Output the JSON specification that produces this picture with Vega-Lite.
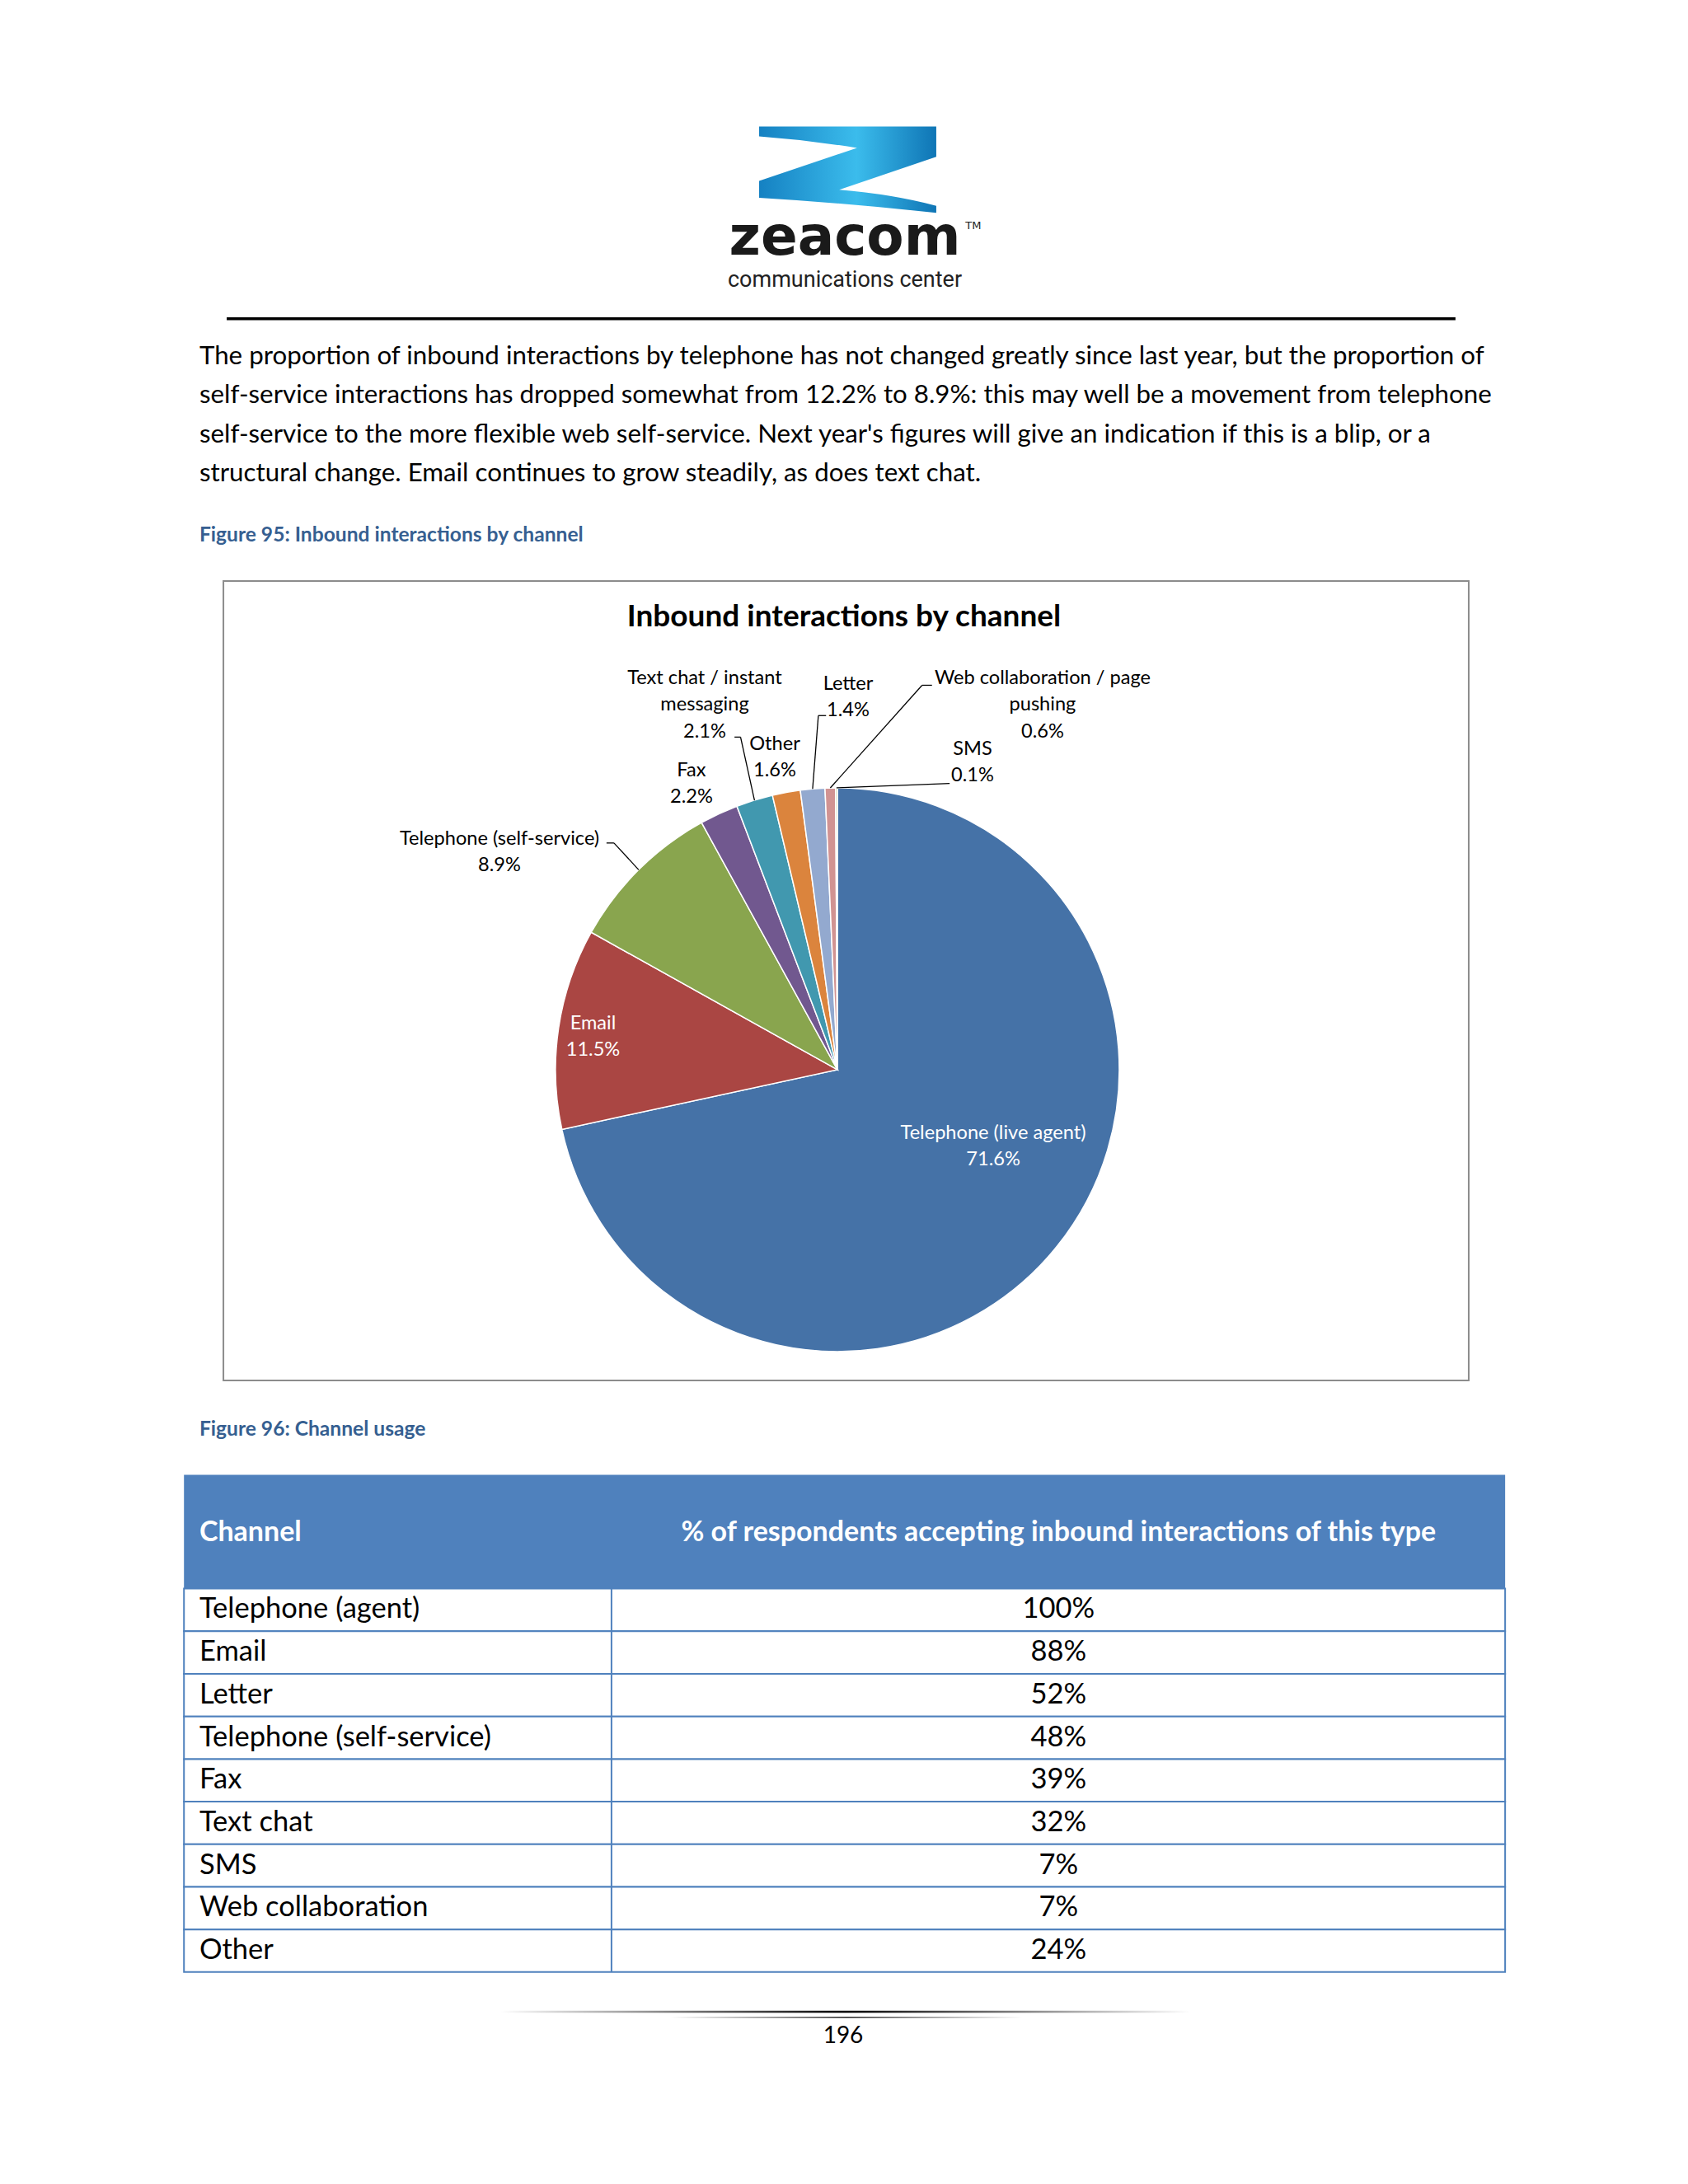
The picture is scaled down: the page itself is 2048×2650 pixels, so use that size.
{
  "$schema": "https://vega.github.io/schema/vega-lite/v6.json",
  "width": 2048,
  "height": 2650,
  "autosize": {"type": "fit", "contains": "padding"},
  "padding": 0,
  "background": "#ffffff",
  "config": {"view": {"stroke": null}, "axis": {"disable": true}, "legend": {"disable": true}, "text": {"font": "Lato"}},
  "datasets": {
    "slices": [
      {"channel": "Telephone (live agent)", "name": "Telephone (live agent)", "pct": 71.6},
      {"channel": "Email", "name": "Email", "pct": 11.5},
      {"channel": "Telephone (self-service)", "name": "Telephone (self-service)", "pct": 8.9},
      {"channel": "Fax", "name": "Fax", "pct": 2.2},
      {"channel": "Text chat / instant messaging", "name": "Text chat / instant\nmessaging", "pct": 2.1},
      {"channel": "Other", "name": "Other", "pct": 1.6},
      {"channel": "Letter", "name": "Letter", "pct": 1.4},
      {"channel": "Web collaboration / page pushing", "name": "Web collaboration / page\npushing", "pct": 0.6},
      {"channel": "SMS", "name": "SMS", "pct": 0.1}
    ],
    "usage": [
      {"channel": "Telephone (agent)", "share": 100},
      {"channel": "Email", "share": 88},
      {"channel": "Letter", "share": 52},
      {"channel": "Telephone (self-service)", "share": 48},
      {"channel": "Fax", "share": 39},
      {"channel": "Text chat", "share": 32},
      {"channel": "SMS", "share": 7},
      {"channel": "Web collaboration", "share": 7},
      {"channel": "Other", "share": 24}
    ],
    "texts": [
      {"role": "brand", "text": "zeacom"},
      {"role": "tm", "text": "TM"},
      {"role": "tagline", "text": "communications center"},
      {"role": "para", "text": "The proportion of inbound interactions by telephone has not changed greatly since last year, but the proportion of\nself-service interactions has dropped somewhat from 12.2% to 8.9%: this may well be a movement from telephone\nself-service to the more flexible web self-service. Next year's figures will give an indication if this is a blip, or a\nstructural change. Email continues to grow steadily, as does text chat."},
      {"role": "cap95", "text": "Figure 95: Inbound interactions by channel"},
      {"role": "title", "text": "Inbound interactions by channel"},
      {"role": "cap96", "text": "Figure 96: Channel usage"},
      {"role": "h1", "text": "Channel"},
      {"role": "h2", "text": "% of respondents accepting inbound interactions of this type"},
      {"role": "page", "text": "196"}
    ]
  },
  "data": {"name": "slices"},
  "transform": [
    {"window": [{"op": "row_number", "as": "idx"}]},
    {"joinaggregate": [{"op": "sum", "field": "pct", "as": "total"}]},
    {"window": [{"op": "sum", "field": "pct", "as": "cum"}], "sort": [{"field": "idx"}], "frame": [null, 0]},
    {"calculate": "2*PI*(datum.cum - datum.pct/2)/datum.total", "as": "mid"},
    {"calculate": "303.6 + 102.2*sin(datum.mid)", "as": "edgeX"},
    {"calculate": "387.9 - 102.2*cos(datum.mid)", "as": "edgeY"},
    {"calculate": "datum.name + '\\n' + format(datum.pct, '.1f') + '%'", "as": "label"}
  ],
  "layer": [
    {
      "data": {"values": [{}]},
      "mark": {"type": "point", "shape": "M-1,-0.48L0.99,-0.48L0.99,-0.14L-0.1,0.23Q0.5,0.28 0.99,0.41L0.99,0.49Q0,0.38 -1,0.32L-1,0.13L0.1,-0.24Q-0.45,-0.33 -1,-0.37Z", "size": 46656, "filled": true, "opacity": 1, "strokeWidth": 0,
        "fill": {"gradient": "linear", "x1": 0, "y1": 0, "x2": 1, "y2": 0, "stops": [{"offset": 0, "color": "#1581c2"}, {"offset": 0.55, "color": "#3bbcec"}, {"offset": 1, "color": "#0f75b5"}]}},
      "encoding": {
        "x": {"datum": 307.5, "type": "quantitative", "scale": {"domain": [0, 612], "nice": false, "zero": false}, "axis": null},
        "y": {"datum": 61.4, "type": "quantitative", "scale": {"domain": [0, 792], "reverse": true, "nice": false, "zero": false}, "axis": null}
      }
    },
    {
      "data": {"name": "texts"},
      "transform": [{"filter": "datum.role === 'brand'"}],
      "mark": {"type": "text", "font": "DejaVu Sans", "fontWeight": "bold", "fontSize": 66, "align": "center", "baseline": "alphabetic", "color": "#1a1a1a"},
      "encoding": {
        "x": {"datum": 306.3, "type": "quantitative", "scale": {"domain": [0, 612], "nice": false, "zero": false}, "axis": null},
        "y": {"datum": 92.35, "type": "quantitative", "scale": {"domain": [0, 792], "reverse": true, "nice": false, "zero": false}, "axis": null},
        "text": {"field": "text"}
      }
    },
    {
      "data": {"name": "texts"},
      "transform": [{"filter": "datum.role === 'tm'"}],
      "mark": {"type": "text", "font": "DejaVu Sans", "fontSize": 13, "align": "left", "baseline": "alphabetic", "color": "#1a1a1a"},
      "encoding": {
        "x": {"datum": 350.0, "type": "quantitative"},
        "y": {"datum": 83.2, "type": "quantitative"},
        "text": {"field": "text"}
      }
    },
    {
      "data": {"name": "texts"},
      "transform": [{"filter": "datum.role === 'tagline'"}],
      "mark": {"type": "text", "font": "Roboto", "fontSize": 27, "align": "center", "baseline": "alphabetic", "color": "#222222"},
      "encoding": {
        "x": {"datum": 306.3, "type": "quantitative"},
        "y": {"datum": 104.0, "type": "quantitative"},
        "text": {"field": "text"}
      }
    },
    {
      "data": {"values": [{}]},
      "mark": {"type": "rule", "strokeWidth": 3.5, "color": "#000000"},
      "encoding": {
        "x": {"datum": 82.2, "type": "quantitative"},
        "x2": {"datum": 527.7},
        "y": {"datum": 115.6, "type": "quantitative"}
      }
    },
    {
      "data": {"name": "texts"},
      "transform": [{"filter": "datum.role === 'para'"}],
      "mark": {"type": "text", "fontSize": 31.3, "align": "left", "baseline": "middle", "lineBreak": "\n", "lineHeight": 47.4, "color": "#000000"},
      "encoding": {
        "x": {"datum": 72.3, "type": "quantitative"},
        "y": {"datum": 129.4, "type": "quantitative"},
        "text": {"field": "text"}
      }
    },
    {
      "data": {"name": "texts"},
      "transform": [{"filter": "datum.role === 'cap95' || datum.role === 'cap96'"}, {"calculate": "datum.role === 'cap95' ? 194.2 : 518.6", "as": "capY"}],
      "mark": {"type": "text", "fontSize": 24.6, "fontWeight": "bold", "align": "left", "baseline": "middle", "color": "#365F91"},
      "encoding": {
        "x": {"datum": 72.3, "type": "quantitative"},
        "y": {"field": "capY", "type": "quantitative"},
        "text": {"field": "text"}
      }
    },
    {
      "data": {"values": [{}]},
      "mark": {"type": "rect", "fill": "#ffffff", "stroke": "#8c8c8c", "strokeWidth": 2},
      "encoding": {
        "x": {"datum": 81.0, "type": "quantitative"},
        "x2": {"datum": 532.5},
        "y": {"datum": 210.7, "type": "quantitative"},
        "y2": {"datum": 500.6}
      }
    },
    {
      "data": {"name": "texts"},
      "transform": [{"filter": "datum.role === 'title'"}],
      "mark": {"type": "text", "fontSize": 37, "fontWeight": "bold", "align": "center", "baseline": "middle", "color": "#000000"},
      "encoding": {
        "x": {"datum": 306.0, "type": "quantitative"},
        "y": {"datum": 223.8, "type": "quantitative"},
        "text": {"field": "text"}
      }
    },
    {
      "mark": {"type": "arc", "outerRadius": 342, "stroke": "#ffffff", "strokeWidth": 1.5},
      "encoding": {
        "x": {"datum": 303.6, "type": "quantitative"},
        "y": {"datum": 387.9, "type": "quantitative"},
        "theta": {"field": "pct", "type": "quantitative", "stack": true},
        "order": {"field": "idx", "type": "quantitative"},
        "color": {"field": "channel", "type": "nominal", "legend": null,
          "scale": {"domain": ["Telephone (live agent)", "Email", "Telephone (self-service)", "Fax", "Text chat / instant messaging", "Other", "Letter", "Web collaboration / page pushing", "SMS"],
                    "range": ["#4572A7", "#AA4643", "#89A54E", "#71588F", "#4198AF", "#DB843D", "#93A9CF", "#D19392", "#B9CD96"]}}
      }
    },
    {
      "transform": [{"filter": "datum.channel === 'Telephone (self-service)'"}],
      "mark": {"type": "rule", "color": "#000000", "strokeWidth": 1.3},
      "encoding": {"x": {"field": "edgeX", "type": "quantitative"}, "y": {"field": "edgeY", "type": "quantitative"}, "x2": {"datum": 222.6}, "y2": {"datum": 305.7}}
    },
    {
      "transform": [{"filter": "datum.channel === 'Telephone (self-service)'"}],
      "mark": {"type": "rule", "color": "#000000", "strokeWidth": 1.3},
      "encoding": {"x": {"datum": 219.9, "type": "quantitative"}, "x2": {"datum": 222.6}, "y": {"datum": 305.7, "type": "quantitative"}}
    },
    {
      "transform": [{"filter": "datum.channel === 'Text chat / instant messaging'"}],
      "mark": {"type": "rule", "color": "#000000", "strokeWidth": 1.3},
      "encoding": {"x": {"field": "edgeX", "type": "quantitative"}, "y": {"field": "edgeY", "type": "quantitative"}, "x2": {"datum": 268.5}, "y2": {"datum": 267.3}}
    },
    {
      "transform": [{"filter": "datum.channel === 'Text chat / instant messaging'"}],
      "mark": {"type": "rule", "color": "#000000", "strokeWidth": 1.3},
      "encoding": {"x": {"datum": 266.3, "type": "quantitative"}, "x2": {"datum": 268.5}, "y": {"datum": 267.3, "type": "quantitative"}}
    },
    {
      "transform": [{"filter": "datum.channel === 'Letter'"}],
      "mark": {"type": "rule", "color": "#000000", "strokeWidth": 1.3},
      "encoding": {"x": {"field": "edgeX", "type": "quantitative"}, "y": {"field": "edgeY", "type": "quantitative"}, "x2": {"datum": 296.7}, "y2": {"datum": 259.5}}
    },
    {
      "transform": [{"filter": "datum.channel === 'Letter'"}],
      "mark": {"type": "rule", "color": "#000000", "strokeWidth": 1.3},
      "encoding": {"x": {"datum": 296.7, "type": "quantitative"}, "x2": {"datum": 299.5}, "y": {"datum": 259.5, "type": "quantitative"}}
    },
    {
      "transform": [{"filter": "datum.channel === 'Web collaboration / page pushing'"}],
      "mark": {"type": "rule", "color": "#000000", "strokeWidth": 1.3},
      "encoding": {"x": {"field": "edgeX", "type": "quantitative"}, "y": {"field": "edgeY", "type": "quantitative"}, "x2": {"datum": 334.3}, "y2": {"datum": 248.5}}
    },
    {
      "transform": [{"filter": "datum.channel === 'Web collaboration / page pushing'"}],
      "mark": {"type": "rule", "color": "#000000", "strokeWidth": 1.3},
      "encoding": {"x": {"datum": 334.3, "type": "quantitative"}, "x2": {"datum": 337.9}, "y": {"datum": 248.5, "type": "quantitative"}}
    },
    {
      "transform": [{"filter": "datum.channel === 'SMS'"}],
      "mark": {"type": "rule", "color": "#000000", "strokeWidth": 1.3},
      "encoding": {"x": {"field": "edgeX", "type": "quantitative"}, "y": {"field": "edgeY", "type": "quantitative"}, "x2": {"datum": 344.3}, "y2": {"datum": 284.1}}
    },
    {
      "transform": [{"filter": "datum.channel === 'Telephone (live agent)'"}],
      "mark": {"type": "text", "fontSize": 23.6, "lineBreak": "\n", "lineHeight": 32.5, "align": "center", "baseline": "middle", "color": "#ffffff"},
      "encoding": {"x": {"datum": 360.1, "type": "quantitative"}, "y": {"datum": 410.9, "type": "quantitative"}, "text": {"field": "label"}}
    },
    {
      "transform": [{"filter": "datum.channel === 'Email'"}],
      "mark": {"type": "text", "fontSize": 23.6, "lineBreak": "\n", "lineHeight": 32.5, "align": "center", "baseline": "middle", "color": "#ffffff"},
      "encoding": {"x": {"datum": 215.0, "type": "quantitative"}, "y": {"datum": 371.1, "type": "quantitative"}, "text": {"field": "label"}}
    },
    {
      "transform": [{"filter": "datum.channel === 'Telephone (self-service)'"}],
      "mark": {"type": "text", "fontSize": 23.6, "lineBreak": "\n", "lineHeight": 32.5, "align": "center", "baseline": "middle", "color": "#000000"},
      "encoding": {"x": {"datum": 181.1, "type": "quantitative"}, "y": {"datum": 304.1, "type": "quantitative"}, "text": {"field": "label"}}
    },
    {
      "transform": [{"filter": "datum.channel === 'Fax'"}],
      "mark": {"type": "text", "fontSize": 23.6, "lineBreak": "\n", "lineHeight": 32.5, "align": "center", "baseline": "middle", "color": "#000000"},
      "encoding": {"x": {"datum": 250.7, "type": "quantitative"}, "y": {"datum": 279.4, "type": "quantitative"}, "text": {"field": "label"}}
    },
    {
      "transform": [{"filter": "datum.channel === 'Text chat / instant messaging'"}],
      "mark": {"type": "text", "fontSize": 23.6, "lineBreak": "\n", "lineHeight": 32.5, "align": "center", "baseline": "middle", "color": "#000000"},
      "encoding": {"x": {"datum": 255.5, "type": "quantitative"}, "y": {"datum": 245.9, "type": "quantitative"}, "text": {"field": "label"}}
    },
    {
      "transform": [{"filter": "datum.channel === 'Other'"}],
      "mark": {"type": "text", "fontSize": 23.6, "lineBreak": "\n", "lineHeight": 32.5, "align": "center", "baseline": "middle", "color": "#000000"},
      "encoding": {"x": {"datum": 280.9, "type": "quantitative"}, "y": {"datum": 269.8, "type": "quantitative"}, "text": {"field": "label"}}
    },
    {
      "transform": [{"filter": "datum.channel === 'Letter'"}],
      "mark": {"type": "text", "fontSize": 23.6, "lineBreak": "\n", "lineHeight": 32.5, "align": "center", "baseline": "middle", "color": "#000000"},
      "encoding": {"x": {"datum": 307.5, "type": "quantitative"}, "y": {"datum": 248.0, "type": "quantitative"}, "text": {"field": "label"}}
    },
    {
      "transform": [{"filter": "datum.channel === 'Web collaboration / page pushing'"}],
      "mark": {"type": "text", "fontSize": 23.6, "lineBreak": "\n", "lineHeight": 32.5, "align": "center", "baseline": "middle", "color": "#000000"},
      "encoding": {"x": {"datum": 378.0, "type": "quantitative"}, "y": {"datum": 245.9, "type": "quantitative"}, "text": {"field": "label"}}
    },
    {
      "transform": [{"filter": "datum.channel === 'SMS'"}],
      "mark": {"type": "text", "fontSize": 23.6, "lineBreak": "\n", "lineHeight": 32.5, "align": "center", "baseline": "middle", "color": "#000000"},
      "encoding": {"x": {"datum": 352.6, "type": "quantitative"}, "y": {"datum": 271.6, "type": "quantitative"}, "text": {"field": "label"}}
    },
    {
      "data": {"values": [{}]},
      "mark": {"type": "rect", "fill": "#4F81BD"},
      "encoding": {
        "x": {"datum": 66.7, "type": "quantitative"},
        "x2": {"datum": 545.7},
        "y": {"datum": 534.8, "type": "quantitative"},
        "y2": {"datum": 576.1}
      }
    },
    {
      "data": {"name": "texts"},
      "transform": [{"filter": "datum.role === 'h1'"}],
      "mark": {"type": "text", "fontSize": 34, "fontWeight": "bold", "align": "left", "baseline": "middle", "color": "#ffffff"},
      "encoding": {"x": {"datum": 72.3, "type": "quantitative"}, "y": {"datum": 556.0, "type": "quantitative"}, "text": {"field": "text"}}
    },
    {
      "data": {"name": "texts"},
      "transform": [{"filter": "datum.role === 'h2'"}],
      "mark": {"type": "text", "fontSize": 34, "fontWeight": "bold", "align": "center", "baseline": "middle", "color": "#ffffff"},
      "encoding": {"x": {"datum": 383.8, "type": "quantitative"}, "y": {"datum": 556.0, "type": "quantitative"}, "text": {"field": "text"}}
    },
    {
      "data": {"name": "usage"},
      "transform": [
        {"window": [{"op": "row_number", "as": "r"}]},
        {"calculate": "576.1 + (datum.r - 1) * 15.45", "as": "y0"},
        {"calculate": "datum.y0 + 15.45", "as": "y1"},
        {"calculate": "datum.y0 + 7.725", "as": "yc"},
        {"calculate": "format(datum.share, 'd') + '%'", "as": "shareLabel"}
      ],
      "layer": [
        {
          "mark": {"type": "rect", "fill": "#ffffff", "stroke": "#4F81BD", "strokeWidth": 2},
          "encoding": {"x": {"datum": 66.7, "type": "quantitative"}, "x2": {"datum": 545.7}, "y": {"field": "y0", "type": "quantitative"}, "y2": {"field": "y1"}}
        },
        {
          "mark": {"type": "rule", "color": "#4F81BD", "strokeWidth": 2},
          "encoding": {"x": {"datum": 221.7, "type": "quantitative"}, "y": {"field": "y0", "type": "quantitative"}, "y2": {"field": "y1"}}
        },
        {
          "mark": {"type": "text", "fontSize": 34.5, "align": "left", "baseline": "middle", "color": "#000000"},
          "encoding": {"x": {"datum": 72.3, "type": "quantitative"}, "y": {"field": "yc", "type": "quantitative"}, "text": {"field": "channel"}}
        },
        {
          "mark": {"type": "text", "fontSize": 34.5, "align": "center", "baseline": "middle", "color": "#000000"},
          "encoding": {"x": {"datum": 383.8, "type": "quantitative"}, "y": {"field": "yc", "type": "quantitative"}, "text": {"field": "shareLabel"}}
        }
      ]
    },
    {
      "data": {"values": [{}]},
      "mark": {"type": "rect", "fill": {"gradient": "linear", "x1": 0, "y1": 0, "x2": 1, "y2": 0, "stops": [{"offset": 0, "color": "#ffffff"}, {"offset": 0.5, "color": "#000000"}, {"offset": 1, "color": "#ffffff"}]}},
      "encoding": {"x": {"datum": 181.4, "type": "quantitative"}, "x2": {"datum": 431.5}, "y": {"datum": 729.2, "type": "quantitative"}, "y2": {"datum": 729.9}}
    },
    {
      "data": {"values": [{}]},
      "mark": {"type": "rect", "fill": {"gradient": "linear", "x1": 0, "y1": 0, "x2": 1, "y2": 0, "stops": [{"offset": 0, "color": "#ffffff"}, {"offset": 0.5, "color": "#222222"}, {"offset": 1, "color": "#ffffff"}]}},
      "encoding": {"x": {"datum": 243.1, "type": "quantitative"}, "x2": {"datum": 370.8}, "y": {"datum": 731.3, "type": "quantitative"}, "y2": {"datum": 731.8}}
    },
    {
      "data": {"name": "texts"},
      "transform": [{"filter": "datum.role === 'page'"}],
      "mark": {"type": "text", "fontSize": 28, "align": "center", "baseline": "middle", "color": "#000000"},
      "encoding": {"x": {"datum": 305.7, "type": "quantitative"}, "y": {"datum": 738.5, "type": "quantitative"}, "text": {"field": "text"}}
    }
  ]
}
